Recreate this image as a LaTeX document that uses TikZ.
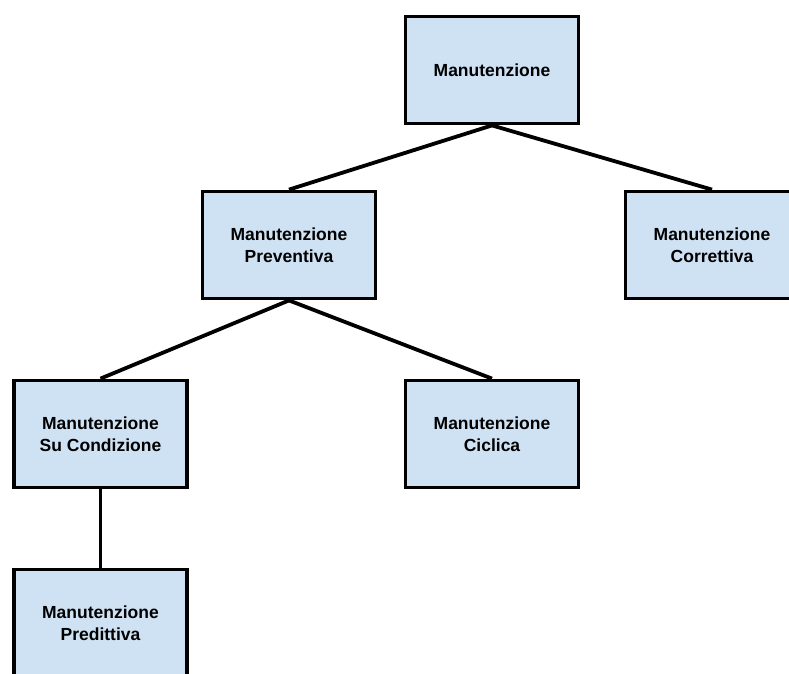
\documentclass[tikz,border=0pt]{standalone}
\usepackage{fontspec}
\setmainfont{Liberation Sans}
\definecolor{boxfill}{HTML}{CFE2F3}
\begin{document}
\begin{tikzpicture}[x=1pt,y=-1pt,
  box/.style={draw=black, fill=boxfill, line width=3.8pt, minimum width=173pt,
    minimum height=107pt, inner sep=0pt, align=center,
    font=\fontsize{17.5}{22}\selectfont\bfseries},
  link/.style={draw=black, line width=3.8pt}]
  \useasboundingbox (0,0) rectangle (789,673);
  \clip (0,0) rectangle (789,673);
  % tree of maintenance types
  \node[box] (root) at (492,70) {Manutenzione};
  \node[box] (prev) at (289,245) {Manutenzione\\Preventiva};
  \node[box] (corr) at (712,245) {Manutenzione\\Correttiva};
  \node[box] (cond) at (100.5,434) {Manutenzione\\Su Condizione};
  \node[box] (cicl) at (492,434) {Manutenzione\\Ciclica};
  \node[box] (pred) at (100.5,623) {Manutenzione\\Predittiva};
  % branches
  \draw[link] (root.south) -- (prev.north);
  \draw[link] (root.south) -- (corr.north);
  \draw[link] (prev.south) -- (cond.north);
  \draw[link] (prev.south) -- (cicl.north);
  \draw[link] (cond.south) -- (pred.north);
\end{tikzpicture}
\end{document}
